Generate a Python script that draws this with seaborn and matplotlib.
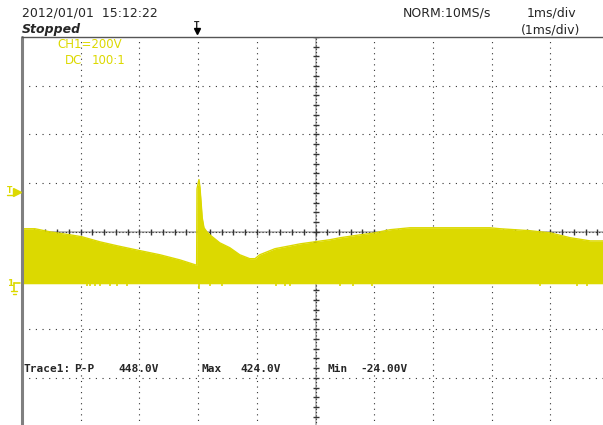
import numpy as np
import pandas as pd
import matplotlib
matplotlib.use("Agg")
import matplotlib.pyplot as plt
import seaborn as sns

# ---- data (time in ms, voltage in V) ----
t_ms = [-5.0, -4.78, -4.52, -4.18, -3.98, -3.67, -3.38, -3.07, -2.65, -2.31,
        -2.05, -2.025, -2.019, -1.985, -1.968, -1.95, -1.93, -1.90, -1.85, -1.80,
        -1.63, -1.46, -1.29, -1.12, -1.03, -0.95, -0.69, -0.43, -0.26, 0.25,
        0.42, 0.76, 1.01, 1.27, 1.61, 2.29, 2.97, 3.14, 3.65, 4.00,
        4.34, 4.68, 4.90]
upper_v = [222, 222, 209, 197, 189, 168, 152, 136, 115, 94,
           74, 72, 386, 424, 390, 333, 267, 226, 209, 197,
           164, 144, 115, 99, 99, 115, 140, 152, 160, 177,
           185, 197, 205, 218, 226, 226, 226, 222, 214, 205,
           185, 172, 172]
lower_v = -4

# downward glitches on the bottom edge
dip_t = [-3.89, -3.84, -3.76, -3.67, -3.50, -3.38, -3.21, -1.98, -1.80, -1.59,
         -0.67, -0.52, -0.43, 0.42, 0.64, 0.96, 3.82, 4.45, 4.62]
dip_v = [-14, -12, -14, -12, -14, -12, -14, -24, -12, -14,
         -14, -12, -14, -12, -14, -12, -14, -12, -14]

volts_per_div = 200
ground_div = -1.047   # ground marker position, in divisions from centre

header_left = "2012/01/01  15:12:22"
status = "Stopped"
ch_label = "CH1=200V"
coupling = ["DC", "100:1"]
acq = "NORM:10MS/s"
tb = ["1ms/div", "(1ms/div)"]
meas = [("Trace1:", 23), ("P-P", 74), ("448.0V", 118), ("Max", 202),
        ("424.0V", 240), ("Min", 327), ("-24.00V", 360)]

YEL = "#dcd900"
W, H = 603, 425

df = pd.DataFrame({"t": t_ms, "v": upper_v})
df["div"] = df["v"] / volts_per_div + ground_div

sns.set_style("white")
plt.rcParams["font.family"] = ["DejaVu Sans"]

fig = plt.figure(figsize=(W / 100, H / 100), dpi=100)
fig.patch.set_facecolor("white")
ax = fig.add_axes([22 / W, -1.6 / H, 587 / W, 389.6 / H])
ax.set_xlim(-5, 5)
ax.set_ylim(-4, 4)
ax.axis("off")

# grid
for gx in range(-4, 5):
    if gx != 0:
        ax.axvline(gx, color="#333333", lw=0.8, ls=(0, (1, 4)), zorder=1)
for gy in range(-3, 4):
    if gy != 0:
        ax.axhline(gy, color="#333333", lw=0.8, ls=(0, (1, 5)), zorder=1)
# centre cross with fine ticks
ax.axhline(0, color="#b0b0b0", lw=1.2, zorder=1)
ax.axvline(0, color="#b0b0b0", lw=1.2, zorder=1)
ax.axhline(0, color="#333333", lw=0.8, ls=(0, (1, 2)), zorder=1.2)
ax.axvline(0, color="#333333", lw=0.8, ls=(0, (1, 2)), zorder=1.2)
ax.plot(np.arange(-5, 5.01, 0.2), np.zeros(51), ls="none", marker="|",
        ms=4, mew=1, color="#333333", zorder=1.5)
ax.plot(np.zeros(41), np.arange(-4, 4.01, 0.2), ls="none", marker="_",
        ms=4, mew=1, color="#333333", zorder=1.5)

# waveform band
ax.fill_between(df["t"], lower_v / volts_per_div + ground_div, df["div"],
                color=YEL, lw=0, zorder=2)
sns.lineplot(data=df, x="t", y="div", color=YEL, lw=1, ax=ax, zorder=2.5)
ax.vlines(dip_t, lower_v / volts_per_div + ground_div,
          np.array(dip_v) / volts_per_div + ground_div,
          color=YEL, lw=1.2, zorder=2)
ax.set_xlim(-5, 5)
ax.set_ylim(-4, 4)

# borders
ax.axvline(-5, color="#808080", lw=2.2, clip_on=False, zorder=3)
ax.axhline(4, color="#555555", lw=1, clip_on=False, zorder=3)


def fx(x):
    return x / W


def fy(y):
    return 1 - y / H


# header texts
fig.text(fx(22), fy(13.5), header_left, fontsize=9, va="center", ha="left")
fig.text(fx(22), fy(29), status, fontsize=9, va="center", ha="left",
         fontweight="bold", fontstyle="italic")
fig.text(fx(403), fy(13.5), acq, fontsize=9, va="center", ha="left")
fig.text(fx(551), fy(13.5), tb[0], fontsize=9, va="center", ha="center")
fig.text(fx(551), fy(30), tb[1], fontsize=9, va="center", ha="center")

# trigger position marker at top
fig.text(fx(196.5), fy(25), "T", fontsize=5.5, va="center", ha="center",
         fontweight="bold")
fig.add_artist(plt.Line2D([fx(197)], [fy(31)], marker="v", ms=5,
                          color="black", transform=fig.transFigure))

# channel labels
fig.text(fx(57), fy(44.5), ch_label, fontsize=8.5, color=YEL, va="center",
         ha="left")
fig.text(fx(65), fy(60.5), coupling[0], fontsize=8.5, color=YEL, va="center",
         ha="left")
fig.text(fx(92), fy(60.5), coupling[1], fontsize=8.5, color=YEL, va="center",
         ha="left")

# trigger level marker on the left
fig.text(fx(10), fy(190.5), "T", fontsize=5.5, color=YEL, va="center",
         ha="center", fontweight="bold")
fig.add_artist(plt.Line2D([fx(7), fx(14)], [fy(194.5), fy(194.5)], lw=1,
                          color=YEL, transform=fig.transFigure))
fig.add_artist(plt.Line2D([fx(16.5)], [fy(192)], marker=">", ms=6,
                          color=YEL, transform=fig.transFigure))

# ground marker
fig.text(fx(10), fy(283), "1", fontsize=6.5, color=YEL, va="center",
         ha="center", fontweight="bold")
fig.add_artist(plt.Line2D([fx(14), fx(20)], [fy(283), fy(283)], lw=1.2,
                          color=YEL, transform=fig.transFigure))
fig.add_artist(plt.Line2D([fx(14), fx(14)], [fy(283), fy(291)], lw=1.2,
                          color=YEL, transform=fig.transFigure))
fig.add_artist(plt.Line2D([fx(11), fx(17)], [fy(291), fy(291)], lw=1,
                          color=YEL, transform=fig.transFigure))
fig.add_artist(plt.Line2D([fx(12.5), fx(15.5)], [fy(293.5), fy(293.5)], lw=1,
                          color=YEL, transform=fig.transFigure))

# measurement line
for txt, xpos in meas:
    fig.text(fx(xpos), fy(369), txt, fontsize=8, va="center", ha="left",
             family="DejaVu Sans Mono", fontweight="bold")

fig.savefig("out.png", dpi=100, facecolor="white")
